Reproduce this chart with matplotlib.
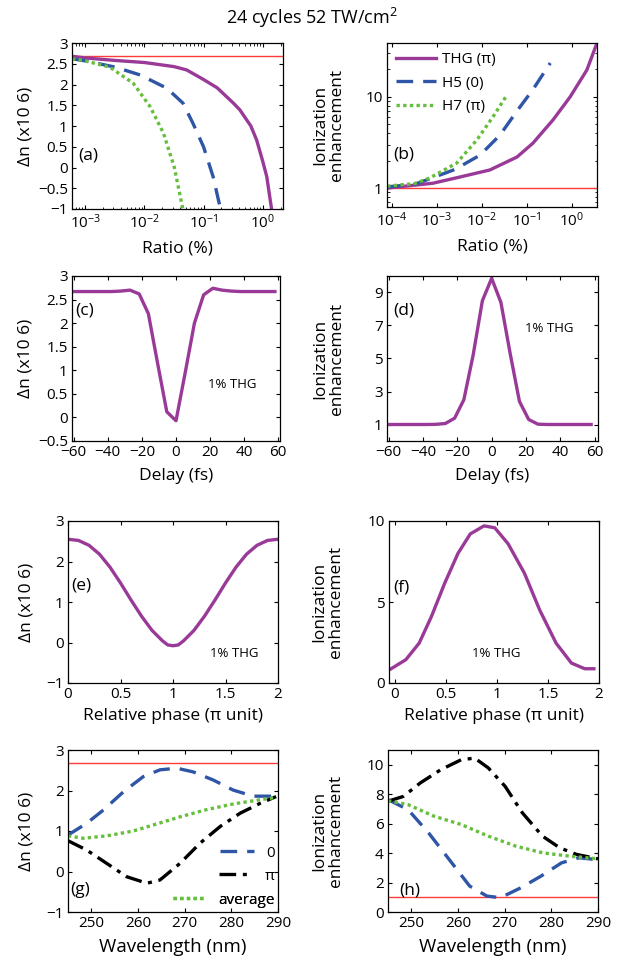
import matplotlib
matplotlib.use("Agg")
import matplotlib.pyplot as plt
from matplotlib.ticker import FuncFormatter, LogLocator, NullFormatter

plt.rcParams['font.family'] = ['Open Sans', 'DejaVu Sans']
plt.rcParams['mathtext.fontset'] = 'custom'
plt.rcParams['mathtext.rm'] = 'Open Sans'
plt.rcParams['mathtext.it'] = 'Open Sans:italic'
plt.rcParams['mathtext.bf'] = 'Open Sans:bold'
plt.rcParams['axes.unicode_minus'] = True

# ---- data ----
ref_dn = 2.68          # unperturbed delta n
ref_ion = 1.0

# (a) delta n vs ratio
ratio_a_thg = [6e-4, 1e-3, 3.2e-3, 1e-2, 1.6e-2, 3.2e-2, 5.2e-2, 0.1, 0.17, 0.32, 0.41, 0.63, 0.79, 1.0, 1.17, 1.41]
dn_a_thg = [2.68, 2.64, 2.58, 2.53, 2.49, 2.43, 2.35, 2.12, 1.92, 1.55, 1.39, 1.0, 0.66, 0.15, -0.22, -1.0]
ratio_a_h5 = [6e-4, 1e-3, 3.2e-3, 8.5e-3, 2.4e-2, 4.5e-2, 6.6e-2, 0.1, 0.145, 0.19, 0.2]
dn_a_h5 = [2.62, 2.57, 2.42, 2.23, 1.91, 1.55, 1.07, 0.5, -0.22, -0.95, -1.05]
ratio_a_h7 = [6e-4, 9.3e-4, 2.6e-3, 6.5e-3, 1.26e-2, 2.1e-2, 3.2e-2, 4.4e-2, 4.6e-2]
dn_a_h7 = [2.62, 2.58, 2.42, 2.03, 1.46, 0.83, 0.01, -0.95, -1.1]

# (b) ionization enhancement vs ratio
ratio_b_thg = [7.8e-5, 8.1e-4, 3.2e-3, 1.5e-2, 6e-2, 0.135, 0.38, 0.91, 2.14, 3.6]
ion_b_thg = [1.0, 1.13, 1.32, 1.58, 2.19, 3.1, 5.6, 10.0, 19.7, 39.0]
ratio_b_h5 = [7.8e-5, 3.2e-4, 8.1e-4, 2.5e-3, 9.1e-3, 2.5e-2, 6e-2, 0.135, 0.33]
ion_b_h5 = [1.03, 1.1, 1.3, 1.6, 2.3, 3.8, 7.0, 12.0, 23.5]
ratio_b_h7 = [7.8e-5, 3.2e-4, 6.9e-4, 2.75e-3, 7.8e-3, 1.74e-2, 3.6e-2]
ion_b_h7 = [1.05, 1.12, 1.29, 1.88, 3.4, 6.0, 10.5]

# (c), (d) vs delay
delay = [-59.4, -54.0, -48.6, -43.2, -37.8, -32.4, -27.0, -21.6, -16.2, -10.8, -5.4, 0.0,
         5.4, 10.8, 16.2, 21.6, 27.0, 32.4, 37.8, 43.2, 48.6, 54.0, 58.0]
dn_delay = [2.67, 2.67, 2.67, 2.67, 2.67, 2.68, 2.70, 2.62, 2.2, 1.15, 0.12, -0.07,
            0.95, 2.0, 2.6, 2.74, 2.70, 2.68, 2.67, 2.67, 2.67, 2.67, 2.67]
ion_delay = [1.0, 1.0, 1.0, 1.0, 1.0, 1.01, 1.06, 1.38, 2.5, 5.2, 8.5, 9.86,
             8.4, 5.3, 2.4, 1.3, 1.02, 1.0, 1.0, 1.0, 1.0, 1.0, 1.0]

# (e) delta n vs relative phase
phase_e = [0.0, 0.1, 0.2, 0.3, 0.4, 0.5, 0.6, 0.7, 0.8, 0.9, 0.95, 1.0, 1.05,
           1.1, 1.2, 1.3, 1.4, 1.5, 1.6, 1.7, 1.8, 1.9, 2.0]
dn_phase = [2.55, 2.52, 2.40, 2.18, 1.86, 1.47, 1.05, 0.65, 0.30, 0.04, -0.06, -0.08, -0.06,
            0.04, 0.30, 0.65, 1.05, 1.47, 1.86, 2.18, 2.40, 2.52, 2.55]

# (f) ionization enhancement vs relative phase
phase_f = [-0.05, 0.11, 0.24, 0.36, 0.49, 0.62, 0.74, 0.875, 0.98, 1.11, 1.27, 1.42, 1.58, 1.73, 1.86, 1.95]
ion_phase = [0.82, 1.44, 2.46, 4.1, 6.16, 8.0, 9.2, 9.7, 9.58, 8.6, 6.78, 4.5, 2.46, 1.23, 0.88, 0.88]

# (g) delta n vs wavelength
wl_g0 = [245, 249, 252.6, 256.9, 261.1, 264.7, 268.3, 271.8, 276.1, 280.4, 284.7, 289.6]
dn_g0 = [0.9, 1.19, 1.52, 1.97, 2.34, 2.51, 2.55, 2.46, 2.26, 2.01, 1.86, 1.86]
wl_gpi = [245, 249, 253.3, 257.6, 261.9, 264.7, 269, 273.3, 277.6, 281.9, 286.1, 289.6]
dn_gpi = [0.76, 0.53, 0.2, -0.13, -0.29, -0.21, 0.2, 0.7, 1.11, 1.44, 1.68, 1.85]
wl_gavg = [245, 248.3, 253.3, 259, 263.3, 269, 274.8, 280.5, 286.1, 289.6]
dn_gavg = [0.88, 0.82, 0.88, 1.0, 1.15, 1.35, 1.53, 1.67, 1.77, 1.83]

# (h) ionization enhancement vs wavelength
wl_h0 = [245, 249.3, 253.7, 258.1, 262.5, 266.2, 269.1, 273.5, 277.8, 282.2, 285.9, 290]
ion_h0 = [7.63, 6.95, 5.37, 3.57, 1.76, 1.08, 0.97, 1.65, 2.44, 3.34, 3.68, 3.55]
wl_hpi = [245, 248.3, 251.9, 256.3, 260.7, 263.6, 266.5, 270.1, 273.8, 278.1, 281.8, 285.4, 290]
ion_hpi = [7.52, 7.85, 8.76, 9.66, 10.34, 10.45, 9.78, 8.53, 6.73, 5.15, 4.36, 3.91, 3.61]
wl_havg = [245, 249.3, 254.9, 260.7, 266.5, 272.4, 278.1, 284, 290]
ion_havg = [7.56, 7.29, 6.5, 5.94, 5.15, 4.47, 4.02, 3.79, 3.61]

# ---- styling ----
PURPLE = '#9a3a98'
BLUE = '#2f55a6'
GREEN = '#66bf3c'
RED = '#ff3b3b'
LW = 2.4
LAB = 12.5
TICK = 11
XPAD = 6
W, H = 623, 958


def box(l, t, r, b):
    return [l / W, 1 - b / H, (r - l) / W, (b - t) / H]


def fmt(v, pos):
    return ('%g' % v).replace('-', '\u2212')


def style(ax):
    ax.tick_params(direction='in', top=True, right=True, labelsize=TICK,
                   length=3, pad=3)
    ax.tick_params(which='minor', direction='in', top=True, right=True, length=1.8)
    for s in ax.spines.values():
        s.set_linewidth(0.9)


def ylab(ax, text, xpix):
    p = ax.get_position()
    fig.text(xpix / W, p.y0 + p.height / 2, text, rotation=90, ha='center',
             va='center', fontsize=LAB, linespacing=1.05)


fig = plt.figure(figsize=(W / 100, H / 100), dpi=100)
fig.text(0.5, 1 - 18 / H, '24 cycles 52 TW/cm$^2$', ha='center', va='center', fontsize=13)

dash = (0, (5, 3))
dot = (0, (1, 1))
dashdot = (0, (5, 2, 1.2, 2))
DN = '\u0394n (x10 6)'
ION = 'Ionization\nenhancement'

# (a)
ax = fig.add_axes(box(72, 43, 283, 209))
ax.axhline(ref_dn, color=RED, lw=1)
ax.semilogx(ratio_a_thg, dn_a_thg, color=PURPLE, lw=LW)
ax.semilogx(ratio_a_h5, dn_a_h5, color=BLUE, lw=LW, ls=dash)
ax.semilogx(ratio_a_h7, dn_a_h7, color=GREEN, lw=LW, ls=dot)
ax.set_xlim(6e-4, 2.2)
ax.set_ylim(-1, 3)
ax.set_yticks([-1, -0.5, 0, 0.5, 1, 1.5, 2, 2.5, 3])
ax.yaxis.set_major_formatter(FuncFormatter(fmt))
ax.xaxis.set_major_locator(LogLocator(base=10, numticks=10))
ax.xaxis.set_minor_formatter(NullFormatter())
ax.set_xlabel('Ratio (%)', fontsize=LAB, labelpad=XPAD)
ylab(ax, DN, 26)
ax.text(0.03, 0.325, '(a)', transform=ax.transAxes, fontsize=LAB, va='center')
style(ax)

# (b)
ax = fig.add_axes(box(387, 43, 597, 207))
ax.axhline(ref_ion, color=RED, lw=1)
ax.loglog(ratio_b_thg, ion_b_thg, color=PURPLE, lw=LW, label='THG (\u03c0)')
ax.loglog(ratio_b_h5, ion_b_h5, color=BLUE, lw=LW, ls=dash, label='H5 (0)')
ax.loglog(ratio_b_h7, ion_b_h7, color=GREEN, lw=LW, ls=dot, label='H7 (\u03c0)')
ax.set_xlim(10 ** -4.11, 3.6)
ax.set_ylim(0.62, 39)
ax.set_yticks([1, 10])
ax.set_yticklabels(['1', '10'])
ax.yaxis.set_minor_formatter(NullFormatter())
ax.xaxis.set_major_locator(LogLocator(base=10, numticks=10))
ax.xaxis.set_minor_formatter(NullFormatter())
ax.set_xlabel('Ratio (%)', fontsize=LAB, labelpad=XPAD)
ylab(ax, ION, 329)
ax.text(0.03, 0.32, '(b)', transform=ax.transAxes, fontsize=LAB, va='center')
ax.legend(loc='upper left', frameon=False, fontsize=11, handlelength=2.6,
          handletextpad=0.4, borderaxespad=0.2, labelspacing=0.55)
style(ax)

# (c)
ax = fig.add_axes(box(72, 276, 280, 441))
ax.plot(delay, dn_delay, color=PURPLE, lw=LW)
ax.set_xlim(-61, 61)
ax.set_ylim(-0.5, 3)
ax.set_xticks([-60, -40, -20, 0, 20, 40, 60])
ax.set_yticks([-0.5, 0, 0.5, 1, 1.5, 2, 2.5, 3])
ax.yaxis.set_major_formatter(FuncFormatter(fmt))
ax.xaxis.set_major_formatter(FuncFormatter(fmt))
ax.set_xlabel('Delay (fs)', fontsize=LAB, labelpad=XPAD)
ylab(ax, DN, 26)
ax.text(0.015, 0.79, '(c)', transform=ax.transAxes, fontsize=LAB, va='center')
ax.text(0.77, 0.34, '1% THG', transform=ax.transAxes, fontsize=9.5, ha='center', va='center')
style(ax)

# (d)
ax = fig.add_axes(box(387, 276, 598, 441))
ax.plot(delay, ion_delay, color=PURPLE, lw=LW)
ax.set_xlim(-61, 62)
ax.set_ylim(0, 10)
ax.set_xticks([-60, -40, -20, 0, 20, 40, 60])
ax.set_yticks([1, 3, 5, 7, 9])
ax.xaxis.set_major_formatter(FuncFormatter(fmt))
ax.set_xlabel('Delay (fs)', fontsize=LAB, labelpad=XPAD)
ylab(ax, ION, 329)
ax.text(0.03, 0.79, '(d)', transform=ax.transAxes, fontsize=LAB, va='center')
ax.text(0.77, 0.68, '1% THG', transform=ax.transAxes, fontsize=9.5, ha='center', va='center')
style(ax)

# (e)
ax = fig.add_axes(box(68, 521, 278, 683))
ax.plot(phase_e, dn_phase, color=PURPLE, lw=LW)
ax.set_xlim(0, 2)
ax.set_ylim(-1, 3)
ax.set_xticks([0, 0.5, 1, 1.5, 2])
ax.set_yticks([-1, 0, 1, 2, 3])
ax.xaxis.set_major_formatter(FuncFormatter(fmt))
ax.yaxis.set_major_formatter(FuncFormatter(fmt))
ax.set_xlabel('Relative phase (\u03c0 unit)', fontsize=LAB, labelpad=XPAD - 2)
ylab(ax, DN, 27)
ax.text(0.015, 0.6, '(e)', transform=ax.transAxes, fontsize=LAB, va='center')
ax.text(0.79, 0.185, '1% THG', transform=ax.transAxes, fontsize=9.5, ha='center', va='center')
style(ax)

# (f)
ax = fig.add_axes(box(389, 521, 599, 683))
ax.plot(phase_f, ion_phase, color=PURPLE, lw=LW)
ax.set_xlim(-0.055, 1.93)
ax.set_ylim(0, 10)
ax.set_xticks([0, 0.5, 1, 1.5, 2])
ax.set_yticks([0, 5, 10])
ax.xaxis.set_major_formatter(FuncFormatter(fmt))
ax.set_xlabel('Relative phase (\u03c0 unit)', fontsize=LAB, labelpad=XPAD - 2)
ylab(ax, ION, 328)
ax.text(0.02, 0.59, '(f)', transform=ax.transAxes, fontsize=LAB, va='center')
ax.text(0.51, 0.185, '1% THG', transform=ax.transAxes, fontsize=9.5, ha='center', va='center')
style(ax)

# (g)
ax = fig.add_axes(box(68, 750, 278, 912))
ax.axhline(ref_dn, color=RED, lw=1)
l0, = ax.plot(wl_g0, dn_g0, color=BLUE, lw=LW, ls=dash)
lpi, = ax.plot(wl_gpi, dn_gpi, color='black', lw=LW, ls=dashdot)
lav, = ax.plot(wl_gavg, dn_gavg, color=GREEN, lw=LW, ls=dot)
ax.set_xlim(245, 290)
ax.set_ylim(-1, 3)
ax.set_xticks([250, 260, 270, 280, 290])
ax.set_yticks([-1, 0, 1, 2, 3])
ax.yaxis.set_major_formatter(FuncFormatter(fmt))
ax.set_xlabel('Wavelength (nm)', fontsize=LAB + 1, labelpad=XPAD - 1)
ylab(ax, DN, 27)
ax.text(0.01, 0.135, '(g)', transform=ax.transAxes, fontsize=LAB, va='center')
for h, lab, yy in [(l0, '0', 0.364), (lpi, '\u03c0', 0.222), (lav, 'average', 0.074)]:
    lg = ax.legend([h], [lab], loc='center right', bbox_to_anchor=(0.985, yy),
                   frameon=False, fontsize=11, handlelength=2.2, handletextpad=0.8,
                   borderpad=0, borderaxespad=0)
    ax.add_artist(lg)
style(ax)

# (h)
ax = fig.add_axes(box(388, 750, 598, 912))
ax.axhline(ref_ion, color=RED, lw=1)
ax.plot(wl_h0, ion_h0, color=BLUE, lw=LW, ls=dash)
ax.plot(wl_hpi, ion_hpi, color='black', lw=LW, ls=dashdot)
ax.plot(wl_havg, ion_havg, color=GREEN, lw=LW, ls=dot)
ax.set_xlim(245, 290)
ax.set_ylim(0, 11)
ax.set_xticks([250, 260, 270, 280, 290])
ax.set_yticks([0, 2, 4, 6, 8, 10])
ax.set_xlabel('Wavelength (nm)', fontsize=LAB + 1, labelpad=XPAD - 1)
ylab(ax, ION, 328)
ax.text(0.055, 0.135, '(h)', transform=ax.transAxes, fontsize=LAB, va='center')
style(ax)

fig.savefig('out.png', dpi=100)
